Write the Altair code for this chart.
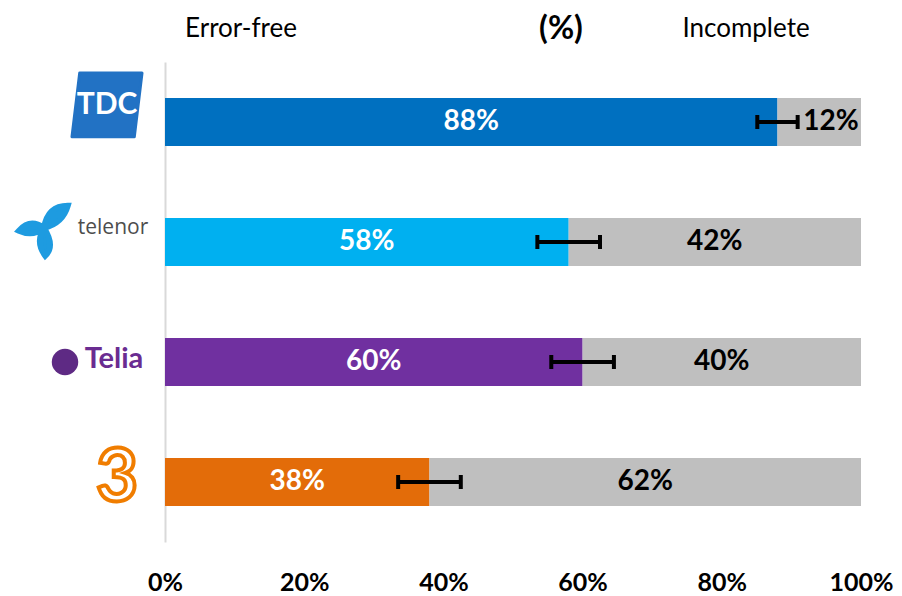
import altair as alt
import pandas as pd

operators = ["TDC", "telenor", "Telia", "3"]
error_free = [88, 58, 60, 38]
incomplete = [12, 42, 40, 62]
margin = [2.9, 4.5, 4.5, 4.5]
bar_colors = ["#0070C0", "#00B0F0", "#7030A0", "#E36C09"]
gray = "#BFBFBF"
tick_values = [0, 20, 40, 60, 80, 100]
headers = ["Error-free", "(%)", "Incomplete"]

FONT = "Lato"

df = pd.DataFrame({"operator": operators, "ef": error_free, "inc": incomplete, "m": margin})
df["end"] = df["ef"] + df["inc"]
df["lo"] = df["ef"] - df["m"]
df["hi"] = df["ef"] + df["m"]
df["ef_mid"] = df["ef"] / 2
df["inc_mid"] = [max(e + i / 2, h + 4.8) for e, i, h in zip(df["ef"], df["inc"], df["hi"])]
df["ef_label"] = df["ef"].astype(str) + "%"
df["inc_label"] = df["inc"].astype(str) + "%"

yenc = alt.Y(
    "operator:N",
    sort=operators,
    scale=alt.Scale(paddingInner=0.6, paddingOuter=0.3),
    axis=alt.Axis(labels=False, ticks=False, title=None, domainColor="#D9D9D9", domainWidth=2, grid=False),
)
xscale = alt.Scale(domain=[0, 100], nice=False)
xaxis = alt.Axis(
    values=tick_values, labelExpr="datum.value + '%'", title=None, domain=False, ticks=False, grid=False,
    labelFont=FONT, labelFontSize=25, labelFontWeight="bold", labelColor="black", labelPadding=28,
    labelFlush=False, labelOverlap=False, labelBound=False,
)

base = alt.Chart(df)

bars = base.mark_bar().encode(
    x=alt.X("ef:Q", scale=xscale, axis=xaxis),
    y=yenc,
    color=alt.Color("operator:N", scale=alt.Scale(domain=operators, range=bar_colors), legend=None),
)
gray_bars = base.mark_bar(color=gray).encode(x="ef:Q", x2="end:Q", y=yenc)

err = base.mark_rule(color="black", strokeWidth=4).encode(x="lo:Q", x2="hi:Q", y=yenc)
cap_lo = base.mark_tick(color="black", thickness=4, size=14, opacity=1).encode(x="lo:Q", y=yenc)
cap_hi = base.mark_tick(color="black", thickness=4, size=14, opacity=1).encode(x="hi:Q", y=yenc)

ef_text = base.mark_text(font=FONT, fontSize=28, fontWeight="bold", color="white").encode(
    x="ef_mid:Q", y=yenc, text="ef_label:N"
)
inc_text = base.mark_text(font=FONT, fontSize=28, fontWeight="bold", color="black").encode(
    x="inc_mid:Q", y=yenc, text="inc_label:N"
)

# --- operator logos (drawn as shapes + text) ---
tdc_path = "M-0.78,-1.4 L1.0,-1.4 L0.78,0.42 L-1.0,0.42 Z"
tdc_box = base.transform_filter(alt.datum.operator == "TDC").mark_point(
    shape=tdc_path, filled=True, size=4900, color="#2272C4", opacity=1, strokeWidth=3, stroke="#2272C4",
    strokeJoin="round"
).encode(x=alt.value(-58), y=yenc)
tdc_txt = base.transform_filter(alt.datum.operator == "TDC").mark_text(
    text="TDC", font=FONT, fontSize=30, fontWeight="bold", color="white", dy=-17
).encode(x=alt.value(-58), y=yenc)

prop_path = (
    "M0,-0.56 Q0.15,-1.45 0.95,-1.45 Q0.75,-0.75 0,-0.56 Z "
    "M0,-0.56 Q-0.55,-0.95 -1.0,-0.45 Q-0.45,-0.2 0,-0.56 Z "
    "M0,-0.56 Q0.45,0.15 0.05,0.55 Q-0.35,0.0 0,-0.56 Z"
)
tel_icon = base.transform_filter(alt.datum.operator == "telenor").mark_point(
    shape=prop_path, filled=True, size=2500, color="#1E9BE0", opacity=1, strokeWidth=6, stroke="#1E9BE0"
).encode(x=alt.value(-121), y=yenc)
tel_txt = base.transform_filter(alt.datum.operator == "telenor").mark_text(
    text="telenor", font="Open Sans", fontSize=21, color="#4D4D4D", dy=-14
).encode(x=alt.value(-52), y=yenc)

telia_icon = base.transform_filter(alt.datum.operator == "Telia").mark_point(
    shape="circle", filled=True, size=700, color="#5E2A84", opacity=1
).encode(x=alt.value(-100), y=yenc)
telia_txt = base.transform_filter(alt.datum.operator == "Telia").mark_text(
    text="Telia", font=FONT, fontSize=29, fontWeight="bold", color="#6A2C91", dy=-3
).encode(x=alt.value(-51), y=yenc)

three_txt = base.transform_filter(alt.datum.operator == "3").mark_text(
    text="3", font=FONT, fontSize=72, fontWeight="bold", color="white", stroke="#F07D00", strokeWidth=4, dy=-3
).encode(x=alt.value(-48), y=yenc)

# --- header texts ---
header_layers = []
for h, px, fs, fw in zip(headers, [76, 396, 581], [26, 32, 26], ["normal", "bold", "normal"]):
    header_layers.append(
        alt.Chart(pd.DataFrame({"t": [h]})).mark_text(font=FONT, fontSize=fs, fontWeight=fw, color="black").encode(
            text="t:N", x=alt.value(px), y=alt.value(-33)
        )
    )

chart = alt.layer(
    bars, gray_bars, err, cap_lo, cap_hi, ef_text, inc_text,
    tdc_box, tdc_txt, tel_icon, tel_txt, telia_icon, telia_txt, three_txt,
    *header_layers,
).properties(
    width=696, height=480,
    padding={"left": 157, "top": 54, "right": 33, "bottom": 53},
    autosize=alt.AutoSizeParams(type="none"),
).configure(background="white").configure_view(stroke=None, strokeWidth=0)

chart.save("out.html", embed_options={"renderer": "svg", "actions": False})
